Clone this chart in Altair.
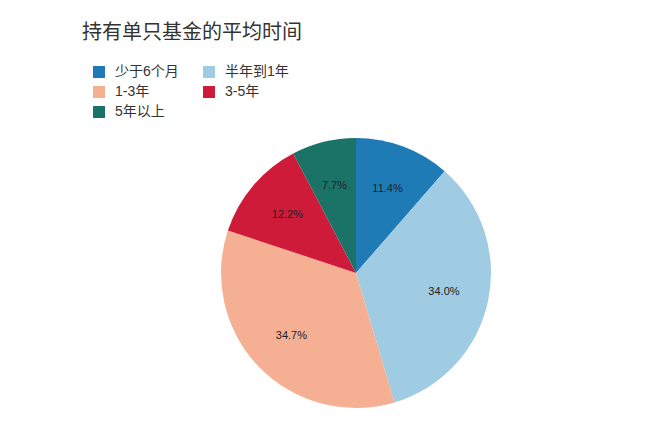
import altair as alt
import pandas as pd

categories = ["少于6个月", "半年到1年", "1-3年", "3-5年", "5年以上"]
values = [11.4, 34.0, 34.7, 12.2, 7.7]
colors = ["#1f7bb6", "#9fcbe3", "#f5b094", "#cf1b3a", "#1b7266"]
labels = [f"{v:.1f}%" for v in values]

df = pd.DataFrame({
    "cat": categories,
    "val": values,
    "label": labels,
    "idx": list(range(len(categories))),
})

FONT = "Liberation Sans, Noto Sans CJK SC, sans-serif"

base = alt.Chart(df).encode(
    theta=alt.Theta("val:Q", stack=True),
    order=alt.Order("idx:Q"),
)

arcs = base.mark_arc(radius=135, stroke=None).encode(
    color=alt.Color(
        "cat:N",
        scale=alt.Scale(domain=categories, range=colors),
        sort=categories,
        legend=alt.Legend(
            title=None,
            orient="none",
            direction="horizontal",
            legendX=18,
            legendY=-65,
            columns=2,
            columnPadding=23,
            rowPadding=6,
            symbolType="square",
            symbolSize=144,
            symbolStrokeWidth=0,
            labelFontSize=14,
            labelFont=FONT,
            labelColor="#333333",
            labelOffset=9,
            padding=0,
        ),
    )
)

texts = base.mark_text(radius=90, fontSize=11, font=FONT, color="#222222").encode(
    text="label:N"
)

chart = (
    alt.layer(arcs, texts)
    .properties(
        width=564,
        height=286,
        title=alt.TitleParams(
            "持有单只基金的平均时间",
            anchor="start",
            fontSize=20,
            fontWeight="normal",
            font=FONT,
            color="#333333",
            dx=8,
            dy=-18,
        ),
        autosize=alt.AutoSizeParams(type="none"),
        padding={"left": 66, "top": 122, "right": 0, "bottom": 0},
    )
    .configure_view(stroke=None)
)

chart.save("out.html", embed_options={"renderer": "svg", "actions": False})
